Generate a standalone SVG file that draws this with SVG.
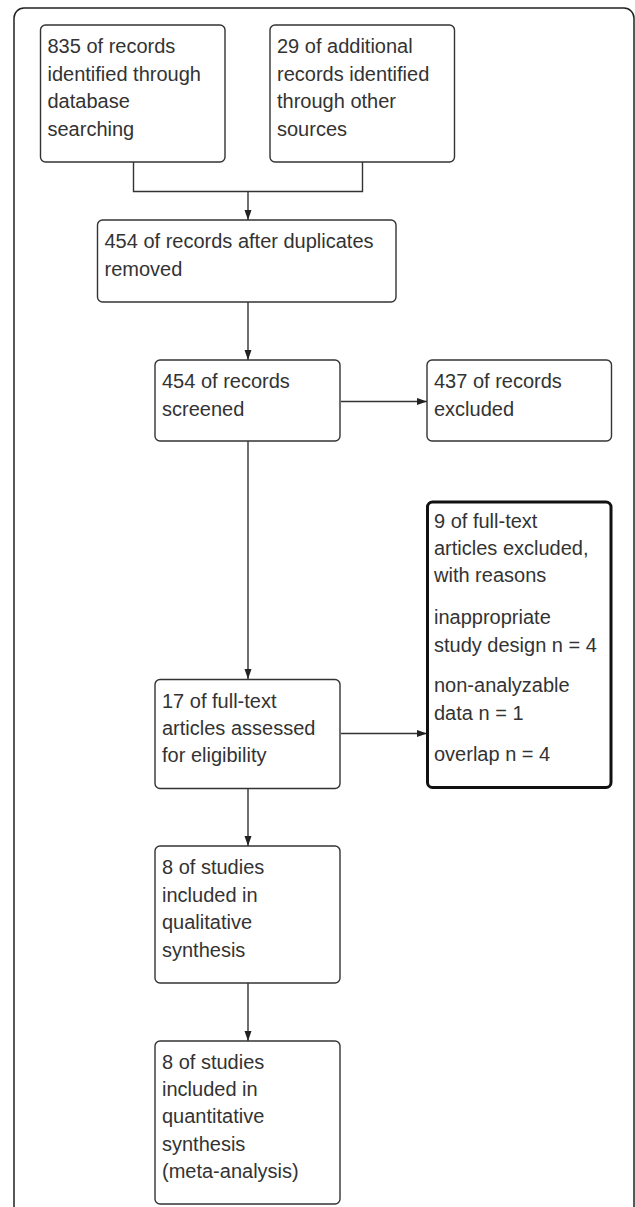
<svg xmlns="http://www.w3.org/2000/svg" width="635" height="1207" viewBox="0 0 635 1207">
<style>
.box{fill:#fff;stroke:#333;stroke-width:1.4}
.thick{fill:#fff;stroke:#111;stroke-width:3}
.t{font-family:"Liberation Sans",Arial,sans-serif;font-size:20px;fill:#333}
.c{fill:none;stroke:#333;stroke-width:1.4}
</style>
<defs>
<marker id="ah" viewBox="0 0 10 8" refX="10" refY="4" markerWidth="10" markerHeight="8" markerUnits="userSpaceOnUse" orient="auto">
<path d="M0,0.5 L10,4 L0,7.5 z" fill="#222"/>
</marker>
</defs>
<rect x="14" y="8" width="620" height="1220" rx="10" fill="#fff" stroke="#222" stroke-width="1.5"/>
<g id="connectors">
<path class="c" d="M133.5,162 V191.5 H362.5 V162"/>
<path class="c" d="M248,191.5 V220" marker-end="url(#ah)"/>
<path class="c" d="M248,302 V360" marker-end="url(#ah)"/>
<path class="c" d="M248,441 V679" marker-end="url(#ah)"/>
<path class="c" d="M341,401.5 H427" marker-end="url(#ah)"/>
<path class="c" d="M341,733.5 H427" marker-end="url(#ah)"/>
<path class="c" d="M248,788.5 V846" marker-end="url(#ah)"/>
<path class="c" d="M248,983 V1041" marker-end="url(#ah)"/>
</g>
<g id="n1">
<rect class="box" x="40.5" y="25" width="184.5" height="137" rx="5"/>
<text class="t" x="47.5" y="53">835 of records</text>
<text class="t" x="47.5" y="80.5">identified through</text>
<text class="t" x="47.5" y="108">database</text>
<text class="t" x="47.5" y="135.5">searching</text>
</g>
<g id="n2">
<rect class="box" x="270" y="25" width="184.5" height="137" rx="5"/>
<text class="t" x="277" y="53">29 of additional</text>
<text class="t" x="277" y="80.5">records identified</text>
<text class="t" x="277" y="108">through other</text>
<text class="t" x="277" y="135.5">sources</text>
</g>
<g id="n3">
<rect class="box" x="97.5" y="220" width="298.5" height="82" rx="5"/>
<text class="t" x="104.5" y="248">454 of records after duplicates</text>
<text class="t" x="104.5" y="275.5">removed</text>
</g>
<g id="n4">
<rect class="box" x="155" y="360" width="185" height="81" rx="5"/>
<text class="t" x="162" y="388">454 of records</text>
<text class="t" x="162" y="415.5">screened</text>
</g>
<g id="n5">
<rect class="box" x="427" y="360" width="184.5" height="81" rx="5"/>
<text class="t" x="434" y="388">437 of records</text>
<text class="t" x="434" y="415.5">excluded</text>
</g>
<g id="n6">
<rect class="thick" x="427.5" y="502" width="183.5" height="285.5" rx="5"/>
<text class="t" x="434" y="528">9 of full-text</text>
<text class="t" x="434" y="555">articles excluded,</text>
<text class="t" x="434" y="582">with reasons</text>
<text class="t" x="434" y="624">inappropriate</text>
<text class="t" x="434" y="651.5">study design n = 4</text>
<text class="t" x="434" y="692">non-analyzable</text>
<text class="t" x="434" y="719.5">data n = 1</text>
<text class="t" x="434" y="761">overlap n = 4</text>
</g>
<g id="n7">
<rect class="box" x="155" y="679.5" width="185" height="109" rx="5"/>
<text class="t" x="162" y="707.5">17 of full-text</text>
<text class="t" x="162" y="734.5">articles assessed</text>
<text class="t" x="162" y="762">for eligibility</text>
</g>
<g id="n8">
<rect class="box" x="155" y="846" width="185" height="137" rx="5"/>
<text class="t" x="162" y="874">8 of studies</text>
<text class="t" x="162" y="901.5">included in</text>
<text class="t" x="162" y="929">qualitative</text>
<text class="t" x="162" y="956.5">synthesis</text>
</g>
<g id="n9">
<rect class="box" x="155" y="1041" width="185" height="163" rx="5"/>
<text class="t" x="162" y="1068.5">8 of studies</text>
<text class="t" x="162" y="1096">included in</text>
<text class="t" x="162" y="1123">quantitative</text>
<text class="t" x="162" y="1150.5">synthesis</text>
<text class="t" x="162" y="1177.5">(meta-analysis)</text>
</g>
</svg>
